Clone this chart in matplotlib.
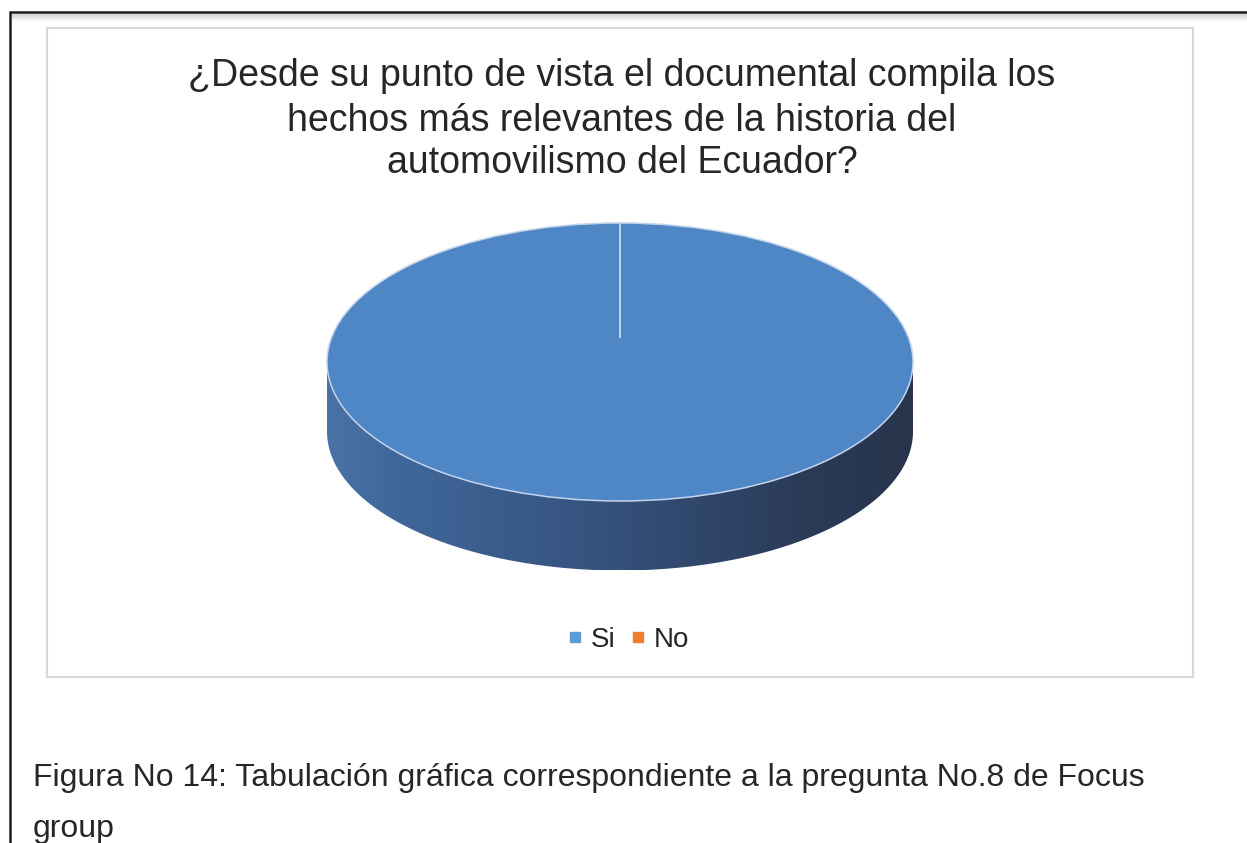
import numpy as np
import matplotlib
matplotlib.use("Agg")
import matplotlib.pyplot as plt
from matplotlib.patches import Rectangle, Polygon, Circle
from matplotlib.lines import Line2D
from matplotlib.colors import LinearSegmentedColormap

plt.rcParams['font.family'] = ['Liberation Sans', 'DejaVu Sans']

# ---- data ----
categories = ["Si", "No"]
values = [100, 0]
legend_colors = ["#5b9bd5", "#ed7d31"]
top_colors = ["#4f86c6", "#e0762e"]
title_lines = [
    "¿Desde su punto de vista el documental compila los",
    "hechos más relevantes de la historia del",
    "automovilismo del Ecuador?",
]
caption_lines = [
    "Figura No 14: Tabulación gráfica correspondiente a la pregunta No.8 de Focus",
    "group",
]

W, H = 1247, 843
fig = plt.figure(figsize=(W / 100, H / 100), dpi=100)
fig.patch.set_facecolor("white")

# page-level canvas in pixel units
base = fig.add_axes([0, 0, 1, 1])
base.set_xlim(0, W)
base.set_ylim(H, 0)
base.axis("off")

# document frame (top and left rules with a soft shadow)
for i, a in enumerate(np.linspace(0.16, 0.0, 8)):
    base.plot([11, W], [13.5 + i, 13.5 + i], color="black", alpha=a, lw=0.8,
              solid_capstyle="butt")
base.plot([9.5, W], [11.5, 11.5], color="#1c1c1c", lw=1.8, solid_capstyle="butt")
base.plot([9.5, 9.5], [10.6, H], color="#1c1c1c", lw=1.8, solid_capstyle="butt")

# chart area border
base.add_patch(Rectangle((47, 28), 1193 - 47, 677 - 28, fill=False,
                         edgecolor="#d9d9d9", lw=1.5))

# title
title_base = [86, 131, 173]
for line, yb in zip(title_lines, title_base):
    base.text(622, yb, line, ha="center", va="baseline", fontsize=27,
              color="#262626")

# caption
cap_base = [786, 837]
cap_x = 33
for line, yb in zip(caption_lines, cap_base):
    base.text(cap_x, yb, line, ha="left", va="baseline", fontsize=23,
              color="#262626")

# ---- 3D-looking pie ----
cx, cy = 620.0, 362.0      # pixel centre of the top face
rx, ry = 293.0, 139.0      # pixel radii of the top face
depth = 0.5                # thickness in top-face y units
xl = (-1.1, 1.1)
yl = (-1.1 - depth, 1.1)
left = (cx + xl[0] * rx) / W
width = (xl[1] - xl[0]) * rx / W
bottom = (H - (cy - yl[0] * ry)) / H
height = (yl[1] - yl[0]) * ry / H
pax = fig.add_axes([left, bottom, width, height])

wedges, _ = pax.pie(values, colors=top_colors, startangle=90,
                    counterclock=False, wedgeprops=dict(linewidth=0))
for w in wedges:
    w.set_zorder(5)
pax.set_aspect("auto")
pax.set_xlim(*xl)
pax.set_ylim(*yl)
pax.axis("off")

side_cmap = LinearSegmentedColormap.from_list(
    "side", [(0.0, "#4a72a6"), (0.12, "#40679a"), (0.5, "#34507b"),
             (0.8, "#2b3c59"), (1.0, "#27344b")])

# side walls of the wedges that face the viewer
total = float(sum(values))
start = 90.0
for val, col in zip(values, top_colors):
    span = 360.0 * val / total
    a0, a1 = start - span, start
    start = a0
    if span <= 0:
        continue
    # visible front half is between 180 and 360 degrees
    segs = []
    for off in (-360.0, 0.0, 360.0):
        lo = max(a0 + off, 180.0)
        hi = min(a1 + off, 360.0)
        if hi > lo:
            segs.append((lo, hi))
    for lo, hi in segs:
        t = np.radians(np.linspace(lo, hi, 200))
        topc = np.column_stack([np.cos(t), np.sin(t)])
        botc = np.column_stack([np.cos(t[::-1]), np.sin(t[::-1]) - depth])
        poly = Polygon(np.vstack([topc, botc]), closed=True,
                       facecolor="none", edgecolor="none")
        pax.add_patch(poly)
        grad = np.linspace(0, 1, 400)[None, :]
        im = pax.imshow(grad, cmap=side_cmap, aspect="auto",
                        extent=[-1, 1, -1 - depth, 0.2], zorder=2,
                        interpolation="bilinear")
        im.set_clip_path(poly)

# outline of the top face and the radial boundary lines
pax.add_patch(Circle((0, 0), 1.0, fill=False, edgecolor="#c3d4ec", lw=1.1,
                     zorder=6))
hub_y = (cy - 337.0) / ry
start = 90.0
for val in values:
    ang = np.radians(start)
    pax.plot([0, np.cos(ang)], [hub_y, np.sin(ang)], color="#c3d4ec",
             lw=1.3, zorder=7)
    start -= 360.0 * val / total

# legend
handles = [Line2D([], [], marker="s", linestyle="none", markersize=6.5,
                  markerfacecolor=c, markeredgecolor=c) for c in legend_colors]
fig.legend(handles, categories, loc="center", ncol=2,
           bbox_to_anchor=(628 / W, 1 - 640 / H), frameon=False,
           fontsize=20, handlelength=0.6, handletextpad=0.26,
           columnspacing=0.51, labelcolor="#262626")

fig.savefig("out.png", dpi=100, facecolor="white")
